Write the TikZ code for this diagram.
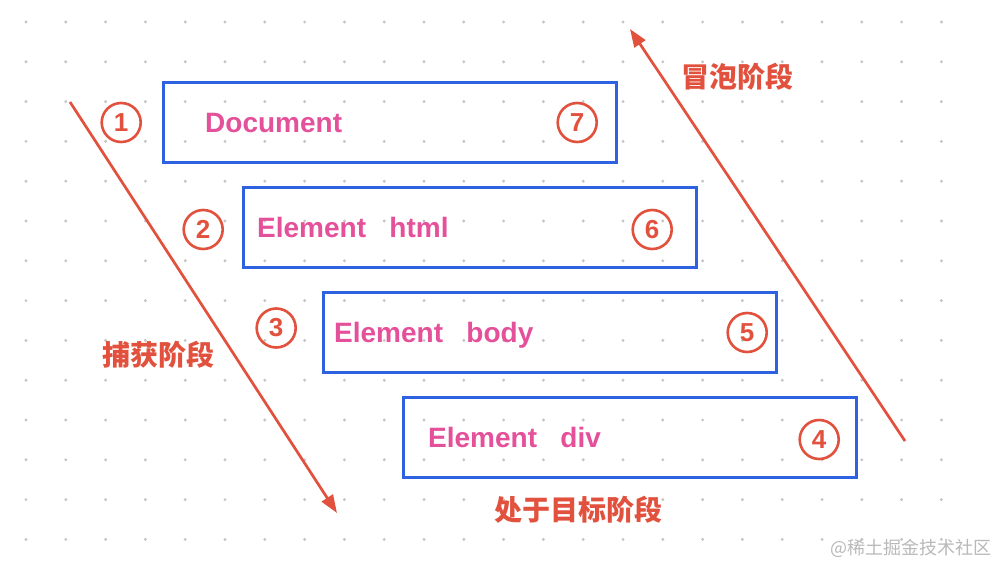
\documentclass[tikz,border=0pt]{standalone}
\usepackage{fontspec}
\setmainfont{Liberation Sans}
\newfontfamily\cjk{Noto Sans CJK SC}
\usepackage{xcolor}
\usepackage{tikz}
\usetikzlibrary{
    arrows.meta,
    positioning,
    calc
}
\definecolor{boxblue}{HTML}{2F62E0}
\definecolor{labelpink}{HTML}{E5509A}
\definecolor{phasered}{HTML}{E2513D}
\definecolor{dotgray}{HTML}{C4C4C4}
\tikzset{
    elembox/.style={
        draw=boxblue,
        line width=3pt,
        minimum width=453pt,
        minimum height=80pt
    }
}
\tikzset{
    elemlabel/.style={
        inner sep=0pt,
        text=labelpink,
        font=\fontsize{28pt}{30pt}\selectfont\bfseries,
        text height=20pt,
        text depth=0pt
    }
}
\tikzset{
    stepnum/.style={
        circle,
        draw=phasered,
        line width=2.6pt,
        minimum size=39pt,
        inner sep=0pt,
        text=phasered,
        font=\fontsize{26pt}{28pt}\selectfont\bfseries
    }
}
\tikzset{
    phasearrow/.style={
        draw=phasered,
        line width=2.7pt,
        -{Triangle[length=18pt,width=13pt]}
    }
}
\tikzset{
    phaselabel/.style={
        inner sep=0pt,
        text=phasered,
        font=\fontsize{28pt}{30pt}\selectfont\cjk\bfseries
    }
}

\begin{document}
\begin{tikzpicture}[
    x=1pt,
    y=-1pt,
    >=Latex
]

% ------------------------------------------------------------
% Canvas and dot grid
% ------------------------------------------------------------

\fill[white] (0,0) rectangle (998,564);
\useasboundingbox (0,0) rectangle (998,564);

\foreach \i in {0,...,23}
    \foreach \j in {0,...,13}
        \fill[dotgray] (26+39.8*\i, 22+39.8*\j) circle (1.6pt);

% ------------------------------------------------------------
% Element boxes
% ------------------------------------------------------------

\node[elembox] (doc) at (390,122.5) {};

\node[elembox, below=22pt of doc, xshift=80pt] (html) {};

\node[elembox, below=22pt of html, xshift=80pt] (body) {};

\node[elembox, below=22pt of body, xshift=80pt] (div) {};

% ------------------------------------------------------------
% Box labels
% ------------------------------------------------------------

\node[elemlabel, right=43pt of doc.west] (doctext)
    {Document};

\node[elemlabel, right=15pt of html.west] (htmltext)
    {Element\ \ \ html};

\node[elemlabel, right=12pt of body.west] (bodytext)
    {Element\ \ \ body};

\node[elemlabel, right=26pt of div.west] (divtext)
    {Element\ \ \ div};

% ------------------------------------------------------------
% Step numbers
% ------------------------------------------------------------

\node[stepnum, left=20pt of doc.west] (one) {1};
\node[stepnum, left=18pt of html.west, yshift=-2pt] (two) {2};
\node[stepnum, left=25pt of body.west, yshift=4.5pt] (three) {3};
\node[stepnum, left=18pt of div.east, yshift=-2pt] (four) {4};
\node[stepnum, left=10pt of body.east] (five) {5};
\node[stepnum, left=25pt of html.east, yshift=-2pt] (six) {6};
\node[stepnum, left=20pt of doc.east] (seven) {7};

% ------------------------------------------------------------
% Capture phase
% ------------------------------------------------------------

\coordinate (capstart) at (70,102);
\coordinate (capend) at (337,513);

\draw[phasearrow] (capstart) -- (capend);

\node[phaselabel] (captext) at (158,355) {捕获阶段};

% ------------------------------------------------------------
% Bubble phase
% ------------------------------------------------------------

\coordinate (bubstart) at (905,441);
\coordinate (bubend) at (630,29);

\draw[phasearrow] (bubstart) -- (bubend);

\node[phaselabel] (bubtext) at (737,77) {冒泡阶段};

% ------------------------------------------------------------
% Target phase
% ------------------------------------------------------------

\node[phaselabel, below=17pt of div, xshift=-52pt] (targettext)
    {处于目标阶段};

\node[
    inner sep=0pt,
    text=gray!55,
    font=\fontsize{18pt}{20pt}\selectfont\cjk
] (mark) at (911,548) {@稀土掘金技术社区};

\end{tikzpicture}
\end{document}
